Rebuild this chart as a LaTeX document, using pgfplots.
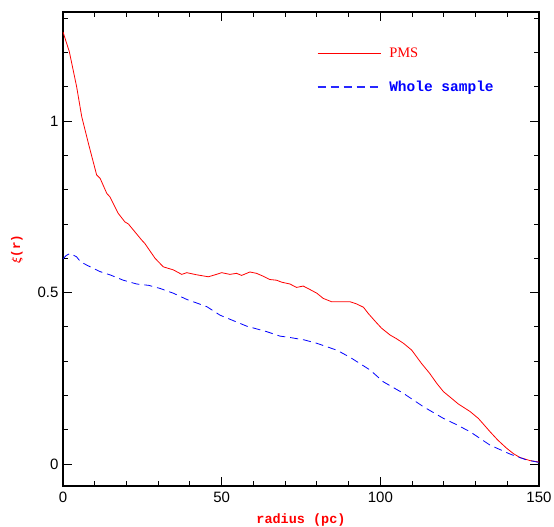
\documentclass[border=0pt]{standalone}
\usepackage{amsmath}
\usepackage{pgfplots}
\pgfplotsset{compat=1.18}
\usepackage{pgfplotstable}
\usepackage{fontspec}
\setmainfont{Liberation Sans}
\newfontfamily\seriffont{Liberation Serif}
\newfontfamily\monofont{Liberation Mono}
\definecolor{wsblue}{RGB}{40,40,255}

\pgfplotstableread{
x y
0 1.26
2.0 1.202
4.3 1.10
5.9 1.013
8.0 0.935
10.6 0.843
11.7 0.833
13.8 0.789
14.8 0.779
17.4 0.731
19.5 0.706
20.6 0.70
24.8 0.653
25.8 0.643
29.0 0.60
31.6 0.575
34.8 0.566
37.4 0.553
39.0 0.558
42 0.552
45.8 0.546
48 0.552
50.0 0.558
52.6 0.553
54.7 0.556
56.3 0.55
58.9 0.56
61.0 0.556
63 0.548
65.2 0.538
67.3 0.536
69 0.530
71.5 0.525
73.6 0.515
75.7 0.519
78 0.508
80.0 0.498
82.0 0.483
84.7 0.473
90.5 0.473
92.5 0.467
94.7 0.457
96.2 0.439
98.5 0.415
100.4 0.396
103.1 0.376
105 0.366
107.3 0.352
109.9 0.332
113.0 0.293
115.5 0.265
117.8 0.235
119.9 0.211
122 0.195
124.6 0.175
128.3 0.153
130.9 0.133
132.8 0.113
134.6 0.094
137 0.07
139.8 0.046
142 0.03
144.0 0.019
147.2 0.010
150 0.006
}\pms

\pgfplotstableread{
x y
0 0.598
1 0.608
2.2 0.614
4.3 0.604
5.5 0.59
7.5 0.58
11.7 0.561
15 0.551
19.0 0.536
23.2 0.525
27 0.521
30.6 0.512
34.8 0.498
39.0 0.48
45.3 0.459
49.5 0.434
53.7 0.418
57.9 0.402
64.2 0.386
68.4 0.373
71.5 0.369
76 0.362
80.0 0.352
86.3 0.332
90.5 0.311
96.8 0.274
100.9 0.240
107.3 0.206
113.6 0.167
119.9 0.133
124 0.115
128.3 0.094
134.6 0.055
140.9 0.029
146.1 0.012
149.3 0.006
150 0.005
}\whole

\begin{document}
\begin{tikzpicture}
\begin{axis}[
  scale only axis,
  width=476pt, height=474pt,
  xmin=0, xmax=150,
  ymin=-0.064, ymax=1.318,
  xtick={0,50,100,150},
  ytick={0,0.5,1},
  minor xtick={10,20,30,40,60,70,80,90,110,120,130,140},
  minor ytick={-0.1,0.1,0.2,0.3,0.4,0.6,0.7,0.8,0.9,1.1,1.2,1.3},
  tick align=inside,
  major tick length=9pt,
  minor tick length=5pt,
  every tick/.style={black, line width=0.9pt},
  axis line style={line width=1.3pt},
  /pgf/number format/assume math mode=true,
  tick label style={font=\fontsize{15}{17}\selectfont},
  xticklabel style={yshift=-2pt},
  yticklabel style={xshift=-1pt},
  xlabel={\textcolor{red}{\monofont\bfseries\fontsize{13.5}{15}\selectfont radius (pc)}},
  ylabel={\textcolor{red}{\monofont\bfseries\fontsize{12.5}{14}\selectfont $\boldsymbol{\xi}$(r)}},
  xlabel style={at={(axis description cs:0.5,0)}, anchor=center, yshift=-34pt},
  ylabel style={at={(axis description cs:0,0.5)}, anchor=center, yshift=46pt},
  legend cell align=left,
  legend style={draw=none, fill=none, inner sep=0pt, outer sep=0pt,
    at={(rel axis cs:0.5336,0.924)}, anchor=north west,
    nodes={inner sep=0pt},
    row sep=22pt,
    /tikz/every odd column/.append style={column sep=8pt}},
]
\addplot[red, line width=0.8pt,
  legend image code/.code={\draw[red, line width=0.8pt] (0pt,0pt) -- (63pt,0pt);}] table[x=x,y=y] {\pms};
\addlegendentry{\textcolor{red}{\seriffont\fontsize{14.5}{16}\selectfont PMS}}
\addplot[blue, line width=0.8pt, dash pattern=on 8pt off 5pt,
  legend image code/.code={\draw[wsblue, line width=1.3pt, dash pattern=on 8pt off 5pt] (0pt,0pt) -- (63pt,0pt);}] table[x=x,y=y] {\whole};
\addlegendentry{\textcolor{blue}{\monofont\bfseries\fontsize{14.5}{16}\selectfont Whole sample}}
\end{axis}
\pgfresetboundingbox
\path ([shift={(-63pt,-41pt)}]current axis.south west) rectangle ([shift={(15pt,12pt)}]current axis.north east);
\end{tikzpicture}
\end{document}
